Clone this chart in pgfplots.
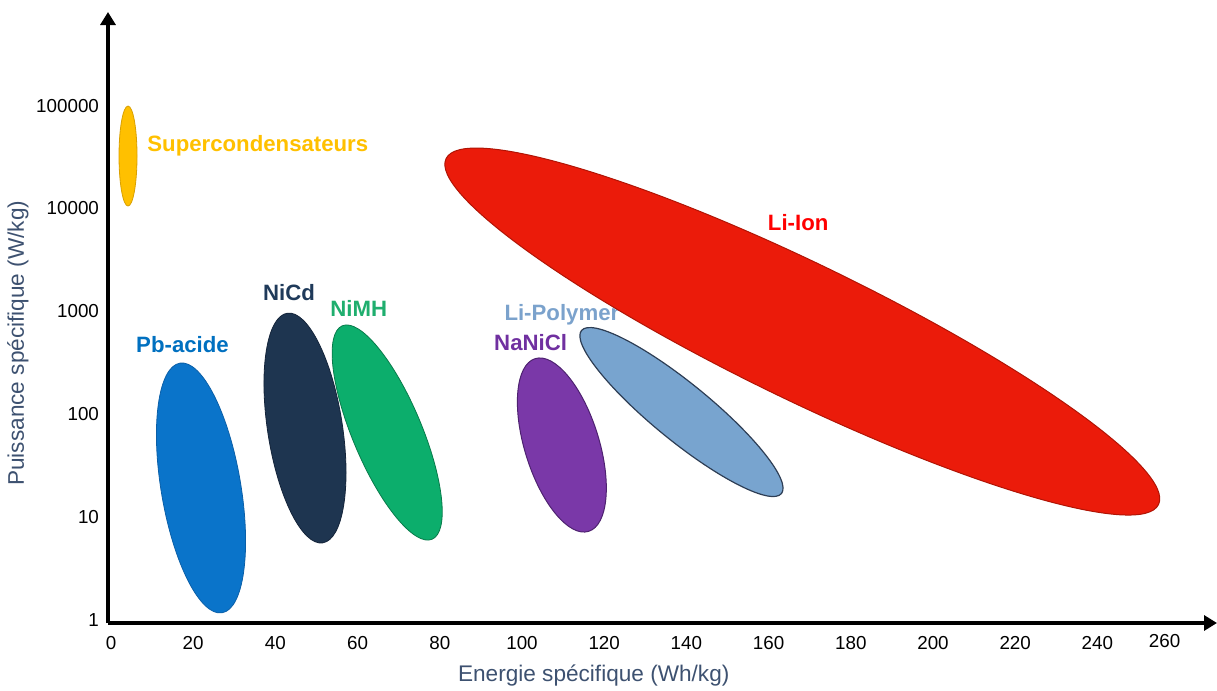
\documentclass[border=0pt]{standalone}
\usepackage{fontspec}
\setmainfont{Liberation Sans}
\usepackage{pgfplots}
\pgfplotsset{compat=1.18}
\usetikzlibrary{arrows.meta}
\definecolor{cSuper}{HTML}{FFC000}
\definecolor{eSuper}{HTML}{D9A000}
\definecolor{cPb}{HTML}{0A74CA}
\definecolor{ePb}{HTML}{0A5FA8}
\definecolor{cNiCd}{HTML}{1E3550}
\definecolor{eNiCd}{HTML}{14243A}
\definecolor{cNiMH}{HTML}{0CAE6C}
\definecolor{eNiMH}{HTML}{087A4A}
\definecolor{cNaNiCl}{HTML}{7A38A8}
\definecolor{eNaNiCl}{HTML}{4E2270}
\definecolor{cLiPoly}{HTML}{78A4CF}
\definecolor{eLiPoly}{HTML}{2E3E55}
\definecolor{cLiIon}{HTML}{EB1B0A}
\definecolor{eLiIon}{HTML}{B01405}
\definecolor{tPb}{HTML}{0070C0}
\definecolor{tNiCd}{HTML}{1F3A5A}
\definecolor{tNiMH}{HTML}{1FAE6E}
\definecolor{tNaNiCl}{HTML}{7030A0}
\definecolor{tLiPoly}{HTML}{7BA2CC}
\definecolor{tLiIon}{HTML}{FF0000}
\definecolor{axlab}{HTML}{3D5170}
\begin{document}
\begin{tikzpicture}
\useasboundingbox (-54pt,-34pt) rectangle (554.5pt,311.5pt);
\begin{axis}[
  at={(0pt,0pt)}, anchor=south west,
  scale only axis, width=554.5pt, height=305.5pt,
  xmin=-0.73, xmax=269.1,
  ymode=log, ymin=0.935, ymax=811000,
  axis lines=left,
  axis line style={line width=2pt, -{Triangle[width=7.5pt,length=6.5pt]}},
  clip=false,
  major tick length=0pt, minor tick length=0pt,
  xtick={0,20,40,60,80,100,120,140,160,180,200,220,240},
  xticklabels={0,20,40,60,80,100,120,140,160,180,200,220,240},
  extra x ticks={260}, extra x tick labels={260},
  extra x tick style={xticklabel style={xshift=-7.5pt, yshift=1pt}},
  ytick={1,10,100,1000,10000,100000},
  yticklabels={1,10,100,1000,10000,100000},
  minor ytick={},
  /pgf/number format/assume math mode=true,
  tick label style={font=\fontsize{9.4pt}{11pt}\selectfont, text=black},
  xticklabel style={yshift=-3pt},
  yticklabel style={xshift=-1pt},
  xlabel={Energie spécifique (Wh/kg)},
  ylabel={Puissance spécifique (W/kg)},
  label style={font=\fontsize{11.3pt}{13pt}\selectfont, text=axlab},
  xlabel style={at={(axis description cs:0.438,-0.0867)}, anchor=center},
  ylabel style={at={(axis description cs:-0.0812,0.458)}, anchor=center},
]
% Li-Ion
\addplot[only marks, mark=*, mark size=1pt, mark options={fill=cLiIon, draw=eLiIon, line width=0.5pt, rotate=-25.9, xscale=198, yscale=34}] coordinates {(168.2,636)};
% Li-Polymer
\addplot[only marks, mark=*, mark size=1pt, mark options={fill=cLiPoly, draw=eLiPoly, line width=0.6pt, rotate=-39.2, xscale=64.5, yscale=14.3}] coordinates {(138.8,105)};
% NaNiCl
\addplot[only marks, mark=*, mark size=1pt, mark options={fill=cNaNiCl, draw=eNaNiCl, line width=0.5pt, rotate=107.2, xscale=45.2, yscale=18.6}] coordinates {(109.7,50.2)};
% Pb-acide
\addplot[only marks, mark=*, mark size=1pt, mark options={fill=cPb, draw=ePb, line width=0.4pt, rotate=99.6, xscale=63.3, yscale=19.9}] coordinates {(21.9,19.2)};
% NiCd
\addplot[only marks, mark=*, mark size=1pt, mark options={fill=cNiCd, draw=eNiCd, line width=0.4pt, rotate=98.8, xscale=58.1, yscale=18.7}] coordinates {(47.2,73.4)};
% NiMH
\addplot[only marks, mark=*, mark size=1pt, mark options={fill=cNiMH, draw=eNiMH, line width=0.4pt, rotate=112.8, xscale=57.9, yscale=17.3}] coordinates {(67.2,66.4)};
% Supercondensateurs
\addplot[only marks, mark=*, mark size=1pt, mark options={fill=cSuper, draw=eSuper, line width=0.4pt, rotate=90, xscale=25, yscale=4.5}] coordinates {(4.14,32300)};

\begin{scope}[every node/.style={font=\bfseries\fontsize{11.1pt}{13pt}\selectfont, inner sep=0pt}]
\node[text=cSuper, anchor=west] at (axis cs:8.76,40400) {Supercondensateurs};
\node[text=tLiIon] at (axis cs:167.2,7210) {Li-Ion};
\node[text=tNiCd] at (axis cs:43.3,1506) {NiCd};
\node[text=tNiMH] at (axis cs:60.3,1077) {NiMH};
\node[text=tPb] at (axis cs:17.4,470) {Pb-acide};
\node[text=tLiPoly] at (axis cs:109.7,920) {Li-Polymer};
\node[text=tNaNiCl] at (axis cs:102.1,492) {NaNiCl};
\end{scope}
\end{axis}
\end{tikzpicture}
\end{document}
